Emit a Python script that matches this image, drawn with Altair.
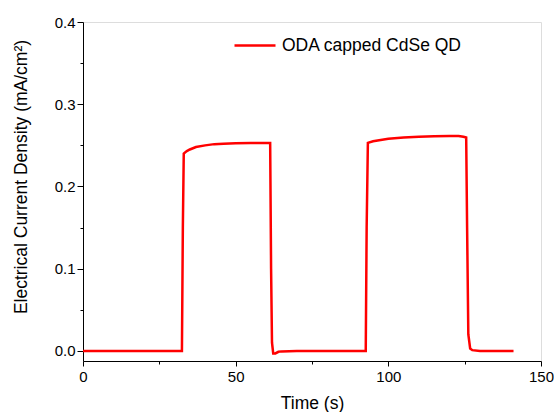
import altair as alt
import pandas as pd

series_name = "ODA capped CdSe QD"

time_s = [0, 5, 10, 15, 20, 25, 30, 32.4, 32.7, 33.0, 34, 35, 37, 40, 43, 46, 50, 55, 60,
          61.3, 61.6, 61.9, 62.3, 63, 64, 65, 70, 75, 80, 85, 90, 92.6, 92.9, 93.3, 95,
          100, 105, 110, 115, 120, 123, 124.6, 125.5, 125.8, 126.2, 126.8, 127.5, 130, 135, 141]
current = [0, 0, 0, 0, 0, 0, 0, 0.000, 0.15, 0.240, 0.243, 0.245, 0.248, 0.250, 0.2515,
           0.252, 0.2525, 0.253, 0.253, 0.253, 0.10, 0.01, -0.003, -0.003, -0.001, -0.0005,
           0, 0, 0, 0, 0, 0.000, 0.15, 0.253, 0.255, 0.258, 0.2595, 0.2605, 0.261, 0.2615,
           0.2615, 0.2605, 0.2595, 0.15, 0.02, 0.003, 0.001, 0, 0, 0]

x_ticks = [0, 25, 50, 75, 100, 125, 150]
y_ticks = [0, 0.05, 0.1, 0.15, 0.2, 0.25, 0.3, 0.35, 0.4]

df = pd.DataFrame({"t": time_s, "j": current, "series": [series_name] * len(time_s)})

FONT = "Liberation Sans"

x_axis = alt.Axis(
    values=x_ticks,
    labelExpr="datum.value % 50 === 0 ? datum.label : ''",
    tickSize={"condition": {"test": "datum.value % 50 === 0", "value": 5}, "value": 3},
    tickColor="black", domainColor="black", grid=False, labelFlush=False,
    labelFont=FONT, labelFontSize=15, labelColor="black", labelPadding=3,
    title="Time (s)", titleFont=FONT, titleFontSize=17.5, titleFontWeight="normal",
    titleColor="black", titleY=42, titleBaseline="middle",
)
y_axis = alt.Axis(
    values=y_ticks,
    format=".1f",
    labelExpr="abs(datum.value*10 - round(datum.value*10)) < 0.001 ? datum.label : ''",
    tickSize={"condition": {"test": "abs(datum.value*10 - round(datum.value*10)) < 0.001", "value": 6}, "value": 3},
    tickColor="black", domainColor="black", grid=False, labelFlush=False,
    labelFont=FONT, labelFontSize=15, labelColor="black", labelPadding=2,
    title="Electrical Current Density (mA/cm²)", titleFont=FONT, titleFontSize=17.5,
    titleFontWeight="normal", titleColor="black",
    titleX=-61.5, titleY=154.5, titleAlign="center", titleBaseline="middle", titleAngle=-90,
)

chart = alt.Chart(df).mark_line(strokeWidth=2.5, interpolate="linear").encode(
    x=alt.X("t:Q", scale=alt.Scale(domain=[0, 150], nice=False, zero=False), axis=x_axis),
    y=alt.Y("j:Q", scale=alt.Scale(domain=[-0.0122, 0.4], nice=False, zero=False), axis=y_axis),
    color=alt.Color("series:N", scale=alt.Scale(domain=[series_name], range=["#ff0000"]),
                    legend=alt.Legend(title=None, orient="none", legendX=150, legendY=1.5,
                                      symbolType="stroke", symbolSize=1681, symbolStrokeWidth=2.5,
                                      labelFont=FONT, labelFontSize=17.5, labelColor="black",
                                      labelOffset=5, labelLimit=0, padding=0, rowPadding=0)),
    order=alt.Order("t:Q"),
).properties(
    width=458, height=339,
    autosize=alt.AutoSizeParams(type="none"),
    padding={"left": 83, "top": 22, "right": 13, "bottom": 51},
).configure_view(stroke=None).configure(background="white")

chart.save("out.html", embed_options={"renderer": "svg", "actions": False})
